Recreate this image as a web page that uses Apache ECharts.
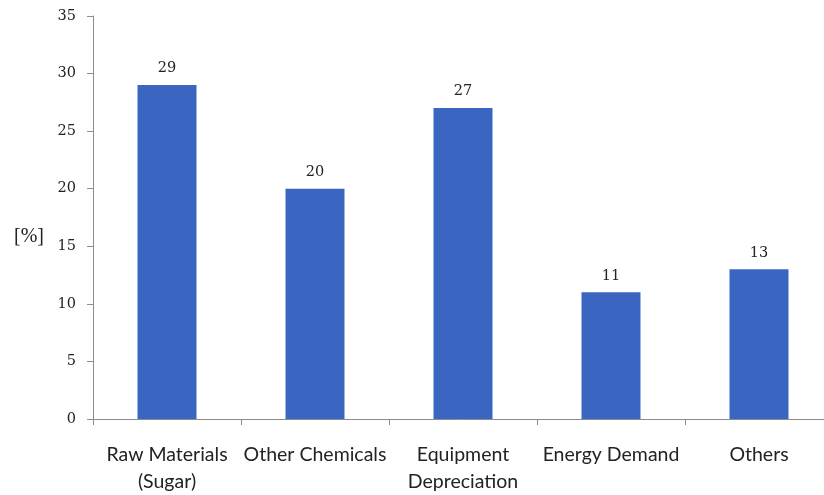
<!DOCTYPE html>
<html>
<head>
<meta charset="utf-8">
<script src="https://cdn.jsdelivr.net/npm/echarts@6/dist/echarts.min.js"></script>
<style>
html, body { margin: 0; padding: 0; background: #fff; }
#main { width: 824px; height: 495px; }
</style>
</head>
<body>
<div id="main"></div>
<script>
var categories = ['Raw Materials\n(Sugar)', 'Other Chemicals', 'Equipment\nDepreciation', 'Energy Demand', 'Others'];
var shares = [29, 20, 27, 11, 13];
var yTicks = [0, 5, 10, 15, 20, 25, 30, 35];

var chartDom = document.getElementById('main');
var myChart = echarts.init(chartDom);
var option;

option = {
    animation: false,
    grid: {
        left: 93,
        right: -9,
        top: 16,
        bottom: 76,
        outerBoundsMode: 'none'
    },
    graphic: [
        {
            type: 'text',
            left: 14,
            top: 227,
            style: {
                text: '[%]',
                font: '20px "Liberation Serif", serif',
                fill: '#222'
            }
        }
    ],
    xAxis: {
        type: 'category',
        data: categories,
        axisLine: { lineStyle: { color: '#8c8c8c', width: 1 } },
        axisTick: { show: true, length: 6, lineStyle: { color: '#8c8c8c' } },
        axisLabel: {
            interval: 0,
            margin: 22,
            color: '#222',
            fontSize: 19.5,
            lineHeight: 27,
            fontFamily: 'Lato, "Open Sans", sans-serif'
        }
    },
    yAxis: {
        type: 'value',
        min: yTicks[0],
        max: yTicks[yTicks.length - 1],
        interval: 5,
        splitLine: { show: false },
        axisLine: { show: true, lineStyle: { color: '#8c8c8c', width: 1 } },
        axisTick: { show: true, length: 6, lineStyle: { color: '#8c8c8c' } },
        axisLabel: {
            margin: 17,
            color: '#222',
            fontSize: 14.5,
            fontFamily: '"DejaVu Serif", serif'
        }
    },
    series: [
        {
            type: 'bar',
            data: shares,
            barWidth: 59,
            itemStyle: { color: '#3a66c2' },
            label: {
                show: true,
                position: 'top',
                distance: 9,
                color: '#222',
                fontSize: 14.5,
                fontFamily: '"DejaVu Serif", serif'
            }
        }
    ]
};

option && myChart.setOption(option);
</script>
</body>
</html>
